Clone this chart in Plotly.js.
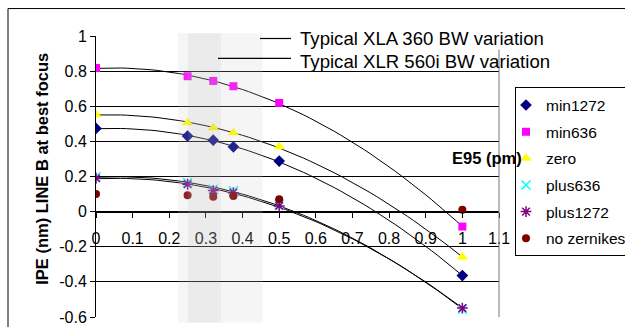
<!DOCTYPE html>
<html><head><meta charset="utf-8">
<script src="https://cdn.plot.ly/plotly-3.0.1.min.js"></script>
<style>html,body{margin:0;padding:0;background:#fff}#chart{width:625px;height:327px}</style>
</head><body><div id="chart"></div>
<script>
// ---- data ----
const xValues = [0, 0.25, 0.32, 0.375, 0.5, 1];
const seriesNames = ['min1272', 'min636', 'zero', 'plus636', 'plus1272', 'no zernikes'];
const min1272 = [0.474, 0.430, 0.407, 0.369, 0.288, -0.364];
const min636 = [0.818, 0.771, 0.744, 0.714, 0.619, -0.085];
const zero = [0.553, 0.506, 0.477, 0.449, 0.369, -0.259];
const plus636 = [0.199, 0.165, 0.127, 0.118, 0.042, -0.555];
const plus1272 = [0.190, 0.156, 0.120, 0.108, 0.032, -0.549];
const noZernikes = [0.100, 0.093, 0.085, 0.089, 0.070, 0.010];
const xTickVals = [0, 0.1, 0.2, 0.3, 0.4, 0.5, 0.6, 0.7, 0.8, 0.9, 1, 1.1];
const xTickText = ['0', '0.1', '0.2', '0.3', '0.4', '0.5', '0.6', '0.7', '0.8', '0.9', '1', '1.1'];
const yTickVals = [-0.6, -0.4, -0.2, 0, 0.2, 0.4, 0.6, 0.8, 1];
const yTickText = ['-0.6', '-0.4', '-0.2', '0', '0.2', '0.4', '0.6', '0.8', '1'];
const bandXLA = [0.224, 0.455];
const bandXLR = [0.251, 0.341];
const noteTexts = ['Typical XLA 360 BW variation', 'Typical XLR 560i BW variation'];
const xTitle = 'E95 (pm)';
const yTitle = 'IPE (nm) LINE B at best focus';

// ---- styling ----
const seriesData = [min1272, min636, zero, plus636, plus1272, noZernikes];
const markerStyles = [
  {symbol: 'diamond', color: '#000080', size: 9},
  {symbol: 'square', color: '#FF00FF', size: 8},
  {symbol: 'triangle-up', color: '#FFFF00', size: 10},
  {symbol: 'x-thin-open', color: '#00FFFF', size: 9, line: {color: '#00FFFF', width: 1.5}},
  {symbol: 'asterisk-open', color: '#800080', size: 9, line: {color: '#800080', width: 1.5}},
  {symbol: 'circle', color: '#800000', size: 8}
];
const withTrend = [true, true, true, true, true, false];

// quadratic least-squares trendline (as the spreadsheet's polynomial trendline)
function quadFit(xs, ys) {
  let S = [0,0,0,0,0], T = [0,0,0];
  for (let i = 0; i < xs.length; i++) {
    let p = 1;
    for (let k = 0; k < 5; k++) { S[k] += p; if (k < 3) T[k] += p * ys[i]; p *= xs[i]; }
  }
  const A = [[S[0],S[1],S[2],T[0]],[S[1],S[2],S[3],T[1]],[S[2],S[3],S[4],T[2]]];
  for (let c = 0; c < 3; c++) {
    for (let r = c + 1; r < 3; r++) {
      const f = A[r][c] / A[c][c];
      for (let k = c; k < 4; k++) A[r][k] -= f * A[c][k];
    }
  }
  const coef = [0,0,0];
  for (let r = 2; r >= 0; r--) {
    let s = A[r][3];
    for (let k = r + 1; k < 3; k++) s -= A[r][k] * coef[k];
    coef[r] = s / A[r][r];
  }
  return coef;
}

const traces = [];
seriesData.forEach((ys, i) => {
  if (!withTrend[i]) return;
  const c = quadFit(xValues, ys);
  const tx = [], ty = [];
  const x0 = xValues[0], x1 = xValues[xValues.length - 1];
  for (let k = 0; k <= 60; k++) {
    const x = x0 + (x1 - x0) * k / 60;
    tx.push(x); ty.push(c[0] + c[1] * x + c[2] * x * x);
  }
  traces.push({x: tx, y: ty, mode: 'lines', line: {color: '#000', width: 1}, showlegend: false, hoverinfo: 'skip'});
});
seriesData.forEach((ys, i) => {
  traces.push({
    x: xValues, y: ys, mode: 'markers', name: seriesNames[i], legendgroup: 'g' + i,
    marker: markerStyles[i]
  });
});

const FONT = 'Arial, "Liberation Sans", sans-serif';
const L = 96, R = 499, T = 35.5, B = 317;
const px = v => (v - L) / (R - L);
const py = v => (B - v) / (B - T);

const layout = {
  width: 625, height: 327,
  margin: {l: L, r: 625 - R, t: T, b: 327 - B, pad: 0, autoexpand: false},
  paper_bgcolor: '#fff', plot_bgcolor: '#fff',
  font: {family: FONT, color: '#000', size: 16},
  showlegend: true,
  legend: {
    x: px(515), y: py(87), xanchor: 'left', yanchor: 'top',
    bgcolor: '#fff', bordercolor: '#000', borderwidth: 1,
    font: {family: FONT, size: 15.5, color: '#000'},
    tracegroupgap: 3.5, indentation: -10
  },
  xaxis: {
    range: [0, 1.1], anchor: 'free', position: 0.375,
    showline: true, linecolor: '#000', linewidth: 1,
    ticks: 'outside', ticklen: 5, tickcolor: '#000',
    tickvals: xTickVals, ticktext: xTickText, ticklabelstandoff: 7,
    showgrid: false, zeroline: false, tickfont: {size: 16}
  },
  yaxis: {
    range: [-0.6, 1], showline: true, linecolor: '#000', linewidth: 1,
    ticks: 'outside', ticklen: 5, tickcolor: '#000',
    tickvals: yTickVals, ticktext: yTickText,
    showgrid: true, gridcolor: '#000', gridwidth: 1, zeroline: false,
    tickfont: {size: 16}
  },
  shapes: [
    {type: 'rect', xref: 'x', yref: 'paper', x0: bandXLA[0], x1: bandXLA[1], y0: -0.02, y1: 1.01,
     fillcolor: '#c8c8c8', opacity: 0.18, line: {width: 0}, layer: 'above'},
    {type: 'rect', xref: 'x', yref: 'paper', x0: bandXLR[0], x1: bandXLR[1], y0: -0.02, y1: 1.01,
     fillcolor: '#b0b0b0', opacity: 0.14, line: {width: 0}, layer: 'above'},
    {type: 'line', xref: 'paper', yref: 'paper', x0: 1, x1: 1, y0: 0, y1: 1, line: {color: '#777', width: 1}},
    {type: 'path', xref: 'paper', yref: 'paper',
     path: `M ${px(8)},${py(335)} L ${px(8)},${py(8)} L ${px(640)},${py(8)}`, line: {color: '#000', width: 1}},
    {type: 'line', xref: 'paper', yref: 'paper', x0: px(260), x1: px(291), y0: py(38), y1: py(38), line: {color: '#000', width: 1.2}},
    {type: 'line', xref: 'paper', yref: 'paper', x0: px(218), x1: px(291), y0: py(58), y1: py(58), line: {color: '#000', width: 1.2}}
  ],
  annotations: [
    {text: xTitle, xref: 'paper', yref: 'paper', x: px(450), y: py(158), xanchor: 'left', yanchor: 'middle',
     showarrow: false, font: {family: FONT, size: 16.5, weight: 'bold', color: '#000'}},
    {text: yTitle, xref: 'paper', yref: 'paper', x: px(42.5), y: py(169), xanchor: 'center', yanchor: 'middle',
     textangle: -90, showarrow: false, font: {family: FONT, size: 16.5, weight: 'bold', color: '#000'}},
    {text: noteTexts[0], xref: 'paper', yref: 'paper', x: px(299), y: py(38), xanchor: 'left', yanchor: 'middle',
     showarrow: false, font: {family: FONT, size: 18.6, color: '#000'}, bgcolor: '#fff', borderpad: 0},
    {text: noteTexts[1], xref: 'paper', yref: 'paper', x: px(299), y: py(61), xanchor: 'left', yanchor: 'middle',
     showarrow: false, font: {family: FONT, size: 18.6, color: '#000'}, borderpad: 0}
  ]
};

Plotly.newPlot('chart', traces, layout, {displayModeBar: false, staticPlot: true});
</script>
</body></html>
